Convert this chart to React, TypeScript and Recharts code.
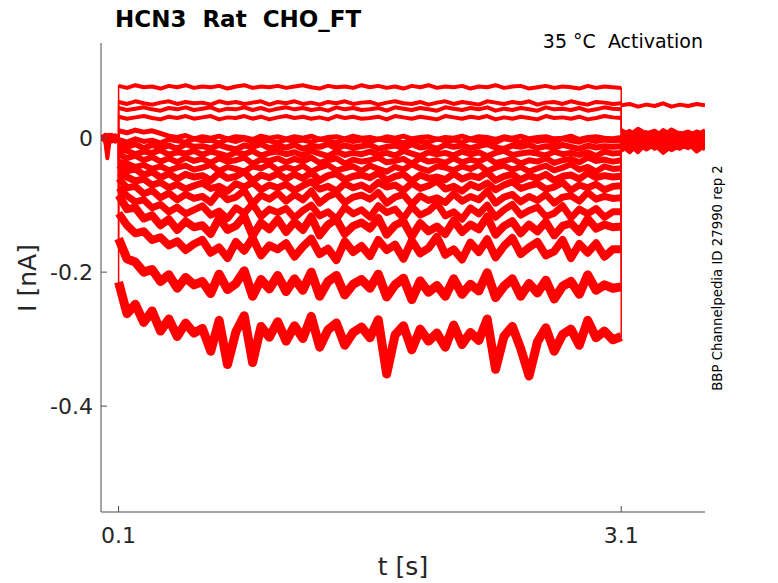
import React from "react";
import { LineChart, Line, XAxis, YAxis } from "recharts";

// sample times [s]: before the step, during the step, after the step
const PRE_T = [0, 0.02, 0.033, 0.045, 0.06, 0.08, 0.1];
const STEP_T = [
  0.1, 0.15, 0.2, 0.25, 0.3, 0.35, 0.4, 0.45, 0.5, 0.55,
  0.6, 0.65, 0.7, 0.75, 0.8, 0.85, 0.9, 0.95, 1.0, 1.05,
  1.1, 1.15, 1.2, 1.25, 1.3, 1.35, 1.4, 1.45, 1.5, 1.55,
  1.6, 1.65, 1.7, 1.75, 1.8, 1.85, 1.9, 1.95, 2.0, 2.05,
  2.1, 2.15, 2.2, 2.25, 2.3, 2.35, 2.4, 2.45, 2.5, 2.55,
  2.6, 2.65, 2.7, 2.75, 2.8, 2.85, 2.9, 2.95, 3.0, 3.05,
  3.1,
];
const POST_T = [3.1, 3.15, 3.2, 3.25, 3.3, 3.35, 3.4, 3.45, 3.5, 3.55, 3.6];

const T_TICKS = [0.1, 3.1];
const I_TICKS = [-0.4, -0.2, 0];

// currents in pA, one sweep each
const P1 = {
  pre: [2, -3, 4, -1, 3, -4, 1],
  step: [
    78, 75, 79, 76, 77, 74, 78, 76, 79, 75,
    77, 76, 78, 74, 77, 79, 75, 77, 76, 78,
    75, 77, 79, 76, 74, 78, 76, 77, 75, 79,
    76, 78, 75, 77, 74, 78, 76, 79, 75, 77,
    76, 78, 74, 77, 76, 79, 75, 77, 78, 74,
    76, 78, 75, 77, 76, 74, 78, 75, 77, 76,
    75,
  ],
  post: [49, 51, 47, 50, 48, 52, 47, 50, 48, 51, 49],
};
const P2 = {
  pre: [-1, 3, -2, 4, -3, 2, 0],
  step: [
    54, 51, 55, 52, 50, 53, 55, 51, 54, 52,
    53, 50, 55, 52, 54, 51, 53, 55, 50, 54,
    52, 55, 51, 53, 50, 54, 52, 55, 51, 53,
    54, 50, 53, 55, 52, 51, 54, 50, 53, 55,
    51, 54, 52, 50, 55, 53, 51, 54, 52, 55,
    50, 53, 54, 51, 55, 52, 50, 54, 53, 51,
    52,
  ],
  post: [12, 5, 14, 7, 11, 3, 13, 6, 10, 4, 12],
};
const P3 = {
  pre: [3, -2, 1, -4, 2, -1, -3],
  step: [
    45, 42, 44, 46, 43, 41, 45, 43, 46, 42,
    44, 46, 41, 44, 43, 46, 42, 45, 41, 44,
    46, 43, 45, 42, 44, 41, 46, 43, 45, 42,
    43, 45, 41, 46, 44, 42, 45, 43, 41, 46,
    44, 42, 45, 43, 46, 41, 44, 42, 45, 43,
    41, 46, 43, 44, 42, 45, 41, 43, 46, 44,
    43,
  ],
  post: [4, 11, 2, 9, 1, 12, 5, 8, 3, 10, 6],
};
const P4 = {
  pre: [-3, 1, -4, 2, -2, 4, -1],
  step: [
    32, 29, 31, 33, 30, 28, 32, 30, 33, 29,
    31, 33, 28, 31, 30, 33, 29, 32, 28, 31,
    33, 30, 32, 29, 31, 28, 33, 30, 32, 29,
    30, 32, 28, 33, 31, 29, 32, 30, 28, 33,
    31, 29, 32, 30, 33, 28, 31, 29, 32, 30,
    28, 33, 30, 31, 29, 32, 28, 30, 33, 31,
    30,
  ],
  post: [7, 0, 9, 2, 10, -1, 6, 3, 8, 1, 9],
};
const P5 = {
  pre: [1, 4, -1, 3, -4, 0, 2],
  step: [
    11, 8, 12, 9, 11, 7, 3, 1, 4, -1,
    2, 0, 3, -1, 2, 1, -2, 3, 0, 2,
    -1, 2, 0, 3, -2, 1, 2, -1, 3, 0,
    1, -2, 2, 0, 3, -1, 1, 2, -2, 1,
    0, 3, -1, 2, 1, -2, 2, 0, 3, -1,
    1, 2, -1, 0, 3, -2, 1, 2, 0, -1,
    1,
  ],
  post: [-2, 5, -3, 7, 0, 6, -1, 4, -3, 8, 1],
};
const Z0 = {
  pre: [0, -4, -30, -6, 2, -3, -1],
  step: [
    -2, -6, -1, -5, -3, -7, -2, -4, -6, -1,
    -4, -3, -7, -2, -5, -1, -6, -3, -4, -7,
    -2, -5, -3, -6, -1, -4, -7, -2, -5, -3,
    -6, -1, -4, -3, -7, -2, -5, -6, -1, -4,
    -3, -6, -2, -5, -4, -7, -1, -3, -6, -2,
    -5, -3, -7, -1, -4, -6, -2, -5, -3, -4,
    -3,
  ],
  post: [3, -4, 5, -2, 4, -5, 2, -1, 6, -3, 3],
};
const N1 = {
  pre: [4, -1, 2, -3, 5, -2, 3],
  step: [
    -8, -13, -9, -15, -10, -14, -11, -16, -9, -13,
    -12, -15, -10, -14, -17, -11, -13, -9, -15, -12,
    -14, -10, -16, -12, -13, -9, -15, -11, -14, -12,
    -10, -16, -13, -11, -15, -9, -14, -12, -16, -10,
    -13, -11, -15, -12, -9, -14, -16, -11, -13, -10,
    -15, -12, -14, -10, -13, -16, -11, -14, -12, -13,
    -12,
  ],
  post: [-6, 1, -7, 3, -4, 2, -5, 0, -3, 4, -2],
};
const N2 = {
  pre: [-2, 2, -5, 1, -1, 3, -4],
  step: [
    -17, -19, -24, -20, -22, -18, -25, -21, -23, -19,
    -25, -20, -23, -27, -21, -24, -19, -26, -22, -20,
    -24, -21, -26, -19, -23, -27, -20, -25, -22, -24,
    -20, -25, -22, -26, -19, -23, -27, -21, -24, -22,
    -26, -20, -24, -21, -27, -22, -19, -25, -23, -21,
    -23, -26, -20, -24, -22, -25, -21, -27, -20, -23,
    -22,
  ],
  post: [-1, -8, 1, -6, 0, -9, -2, -5, 2, -7, -1],
};
const N3 = {
  pre: [1, -5, 3, -2, 4, -3, 0],
  step: [
    -24, -30, -26, -33, -28, -35, -30, -36, -29, -34,
    -31, -37, -30, -35, -33, -29, -38, -32, -34, -30,
    -36, -31, -35, -29, -37, -33, -30, -38, -32, -35,
    -33, -29, -36, -34, -31, -38, -30, -35, -33, -37,
    -30, -36, -32, -35, -29, -37, -34, -31, -38, -33,
    -35, -30, -37, -33, -31, -36, -29, -34, -32, -35,
    -33,
  ],
  post: [-9, -2, -10, 0, -7, -1, -11, -3, -6, 1, -8],
};
const N4 = {
  pre: [-4, 3, -1, 5, -3, 1, -2],
  step: [
    -35, -38, -43, -40, -46, -42, -48, -44, -41, -47,
    -44, -40, -49, -43, -46, -50, -42, -45, -39, -48,
    -43, -47, -41, -50, -44, -40, -48, -45, -42, -49,
    -41, -46, -50, -43, -47, -39, -45, -49, -42, -44,
    -48, -42, -46, -40, -49, -44, -41, -47, -43, -50,
    -45, -41, -48, -44, -39, -47, -43, -50, -42, -46,
    -45,
  ],
  post: [-3, -10, -1, -8, -2, -12, -4, -7, 0, -9, -3],
};
const N5 = {
  pre: [2, -2, 4, -4, 1, -5, 3],
  step: [
    -40, -49, -46, -55, -50, -59, -53, -61, -54, -58,
    -56, -63, -52, -60, -57, -50, -64, -55, -59, -53,
    -61, -54, -60, -51, -63, -56, -53, -62, -57, -55,
    -59, -52, -63, -57, -54, -64, -55, -60, -58, -62,
    -53, -61, -56, -59, -51, -63, -57, -54, -62, -56,
    -60, -54, -63, -57, -55, -61, -52, -59, -56, -58,
    -57,
  ],
  post: [-11, -4, -13, -2, -9, -3, -12, -5, -8, -1, -10],
};
const N6 = {
  pre: [-3, 5, -3, 2, -4, 3, -1],
  step: [
    -52, -58, -64, -61, -70, -66, -74, -69, -76, -71,
    -67, -75, -72, -79, -68, -73, -66, -77, -70, -74,
    -69, -78, -71, -65, -76, -72, -79, -68, -74, -70,
    -77, -66, -73, -70, -78, -67, -75, -71, -64, -76,
    -72, -79, -69, -74, -67, -77, -70, -65, -75, -71,
    -68, -76, -73, -66, -78, -70, -74, -69, -77, -72,
    -71,
  ],
  post: [-5, -12, -3, -10, -4, -14, -6, -9, -2, -11, -5],
};
const N7 = {
  pre: [3, -1, -2, 4, -2, 2, -5],
  step: [
    -60, -74, -72, -83, -78, -89, -82, -92, -84, -90,
    -87, -96, -80, -92, -88, -78, -98, -85, -91, -82,
    -94, -84, -92, -79, -97, -87, -82, -96, -88, -85,
    -91, -81, -97, -88, -84, -99, -86, -93, -89, -96,
    -83, -94, -87, -92, -79, -97, -88, -84, -95, -87,
    -93, -84, -97, -88, -86, -94, -81, -91, -87, -90,
    -89,
  ],
  post: [-14, -6, -15, -4, -11, -5, -13, -7, -10, -3, -12],
};
const N8 = {
  pre: [-1, 4, -4, -1, 3, -3, 2],
  step: [
    -74, -86, -95, -92, -104, -99, -110, -103, -113, -107,
    -101, -115, -109, -120, -104, -112, -98, -117, -106, -111,
    -105, -119, -108, -100, -116, -110, -121, -103, -113, -107,
    -118, -101, -111, -106, -120, -102, -115, -109, -97, -116,
    -110, -121, -104, -113, -100, -118, -107, -99, -115, -108,
    -103, -117, -112, -101, -119, -106, -113, -105, -118, -110,
    -110,
  ],
  post: [-7, -15, -5, -12, -6, -17, -8, -11, -4, -14, -7],
};
const N9 = {
  pre: [5, -3, 2, -5, 1, 4, -2],
  step: [
    -85, -106, -104, -120, -115, -130, -121, -137, -124, -133,
    -130, -143, -119, -137, -131, -116, -146, -126, -136, -121,
    -140, -125, -137, -117, -145, -129, -121, -143, -131, -126,
    -135, -119, -144, -130, -124, -147, -127, -139, -132, -143,
    -123, -140, -129, -136, -117, -144, -131, -124, -142, -129,
    -139, -125, -145, -131, -127, -140, -120, -135, -129, -133,
    -132,
  ],
  post: [-16, -8, -18, -6, -13, -7, -15, -9, -12, -5, -14],
};
const N10 = {
  pre: [-2, 1, -6, 3, -5, -1, 4],
  step: [
    -112, -130, -142, -139, -152, -148, -160, -154, -167, -158,
    -152, -171, -163, -179, -155, -168, -149, -175, -160, -166,
    -157, -177, -162, -150, -173, -165, -182, -154, -170, -161,
    -176, -152, -167, -159, -180, -153, -172, -164, -147, -174,
    -166, -181, -156, -170, -151, -178, -161, -149, -173, -163,
    -155, -175, -169, -152, -179, -158, -171, -157, -177, -166,
    -166,
  ],
  post: [-9, -18, -7, -15, -8, -19, -10, -14, -6, -17, -9],
};
const N11 = {
  pre: [0, -3, 3, -2, 4, -4, 1],
  step: [
    -150, -180, -185, -200, -196, -214, -204, -224, -208, -219,
    -214, -232, -203, -226, -217, -198, -236, -211, -225, -205,
    -229, -210, -227, -200, -236, -214, -205, -234, -218, -211,
    -224, -203, -237, -219, -209, -241, -213, -230, -220, -236,
    -210, -233, -218, -228, -201, -238, -221, -210, -236, -217,
    -231, -212, -240, -221, -214, -233, -204, -227, -219, -224,
    -222,
  ],
  post: [-19, -10, -21, -8, -16, -9, -18, -11, -15, -7, -17],
};
const N12 = {
  pre: [1, -3, -22, -2, 3, -5, 0],
  step: [
    -215, -262, -248, -275, -258, -288, -270, -296, -276, -291,
    -284, -318, -272, -338, -289, -265, -335, -281, -297, -274,
    -303, -280, -299, -266, -312, -286, -276, -309, -290, -282,
    -298, -271, -352, -294, -280, -316, -285, -303, -291, -312,
    -279, -308, -290, -302, -270, -345, -296, -281, -314, -355,
    -304, -283, -318, -293, -285, -309, -272, -298, -288, -301,
    -296,
  ],
  post: [-11, -21, -9, -17, -10, -22, -12, -16, -8, -20, -11],
};

const TRACES = [P1, P2, P3, P4, P5, Z0, N1, N2, N3, N4, N5, N6, N7, N8, N9, N10, N11, N12];
// band width of each sweep during the step, wider where the recording is noisier
const BAND = [4, 4, 4, 4, 5, 5, 6, 6, 6, 6, 7, 7, 7, 7, 8, 8, 9, 9];

type Row = { [key: string]: number };

// a* = whole sweep (thin, carries the jumps), b* = step part, c* = before/after the step
const makeRow = (t: number, part: "b" | "c", pick: (tr: typeof P1) => number): Row => {
  const r: Row = { t };
  TRACES.forEach((tr, k) => {
    const v = pick(tr) / 1000; // pA -> nA
    r[`a${k}`] = v;
    r[`${part}${k}`] = v;
  });
  return r;
};

const rows: Row[] = [
  ...PRE_T.map((t, i) => makeRow(t, "c", (tr) => tr.pre[i])),
  ...STEP_T.map((t, i) => makeRow(t, "b", (tr) => tr.step[i])),
  ...POST_T.map((t, i) => makeRow(t, "c", (tr) => tr.post[i])),
];

const FONT = "'DejaVu Sans', sans-serif";
const AXIS = "#4d4d4d";
const INK = "#262626";
const RED = "#ff0000";

export default function App() {
  return (
    <div
      style={{
        position: "absolute",
        left: 0,
        top: 0,
        width: 778,
        height: 583,
        background: "#ffffff",
        fontFamily: FONT,
      }}
    >
      <LineChart
        width={778}
        height={583}
        data={rows}
        margin={{ top: 43, right: 73, bottom: 0, left: 0 }}
      >
        <XAxis
          type="number"
          dataKey="t"
          domain={[-0.005, 3.6]}
          ticks={T_TICKS}
          allowDataOverflow
          height={71}
          tickSize={-6}
          tickMargin={21}
          stroke={AXIS}
          tick={{ fill: INK, fontSize: 22, fontFamily: FONT }}
          tickFormatter={(v: number) => String(v)}
        />
        <YAxis
          type="number"
          domain={[-0.558, 0.142]}
          ticks={I_TICKS}
          allowDataOverflow
          width={101}
          tickSize={-6}
          tickMargin={14}
          stroke={AXIS}
          tick={{ fill: INK, fontSize: 22, fontFamily: FONT }}
          tickFormatter={(v: number) => String(v)}
        />
        {TRACES.map((_, k) => (
          <Line
            key={`a${k}`}
            type="linear"
            dataKey={`a${k}`}
            stroke={RED}
            strokeWidth={1.5}
            connectNulls
            dot={false}
            activeDot={false}
            isAnimationActive={false}
          />
        ))}
        {TRACES.map((_, k) => (
          <Line
            key={`c${k}`}
            type="linear"
            dataKey={`c${k}`}
            stroke={RED}
            strokeWidth={4}
            strokeLinejoin="round"
            dot={false}
            activeDot={false}
            isAnimationActive={false}
          />
        ))}
        {TRACES.map((_, k) => (
          <Line
            key={`b${k}`}
            type="linear"
            dataKey={`b${k}`}
            stroke={RED}
            strokeWidth={BAND[k]}
            strokeLinejoin="round"
            dot={false}
            activeDot={false}
            isAnimationActive={false}
          />
        ))}
      </LineChart>
      <svg
        width={778}
        height={583}
        style={{ position: "absolute", left: 0, top: 0, pointerEvents: "none" }}
      >
        <text x={115} y={27} fontSize={23} fontWeight="bold" fill="#000" fontFamily={FONT}>
          HCN3{"\u00a0\u00a0"}Rat{"\u00a0\u00a0"}CHO_FT
        </text>
        <text x={703} y={48} fontSize={19} textAnchor="end" fill="#000" fontFamily={FONT}>
          35 °C{"\u00a0\u00a0"}Activation
        </text>
        <text x={403} y={575} fontSize={25} textAnchor="middle" fill={INK} fontFamily={FONT}>
          t [s]
        </text>
        <text
          x={36}
          y={278}
          fontSize={25}
          textAnchor="middle"
          fill={INK}
          fontFamily={FONT}
          transform="rotate(-90 36 278)"
        >
          I [nA]
        </text>
        <text
          x={722}
          y={278}
          fontSize={13.3}
          textAnchor="middle"
          fill="#000"
          fontFamily={FONT}
          transform="rotate(-90 722 278)"
        >
          BBP Channelpedia ID 27990 rep 2
        </text>
      </svg>
    </div>
  );
}
